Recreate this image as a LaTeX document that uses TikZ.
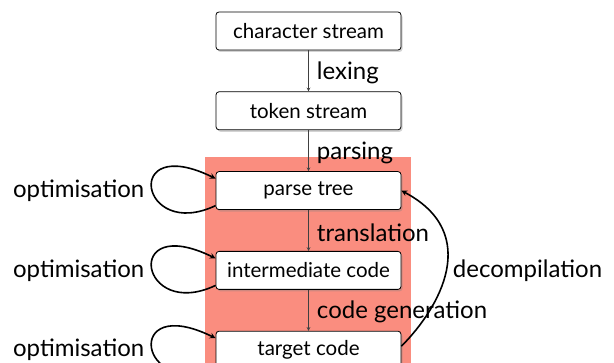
\documentclass[tikz,border=0pt]{standalone}
\usepackage{fontspec}
\setmainfont{Lato}
\usetikzlibrary{calc,positioning,shadows,arrows}
\definecolor{bandred}{RGB}{250,141,127}

\begin{document}
\begin{tikzpicture}[x=1pt,y=1pt,inner sep=0.4mm,
  stage/.style={draw,rounded corners=3pt,fill=white,line width=0.8pt,
    minimum width=185pt,minimum height=38pt,font=\fontsize{20.5}{20.5}\selectfont,
    drop shadow={shadow xshift=1.5pt,shadow yshift=-2pt,opacity=0.35}},
  lbl/.style={font=\fontsize{24}{24}\selectfont},
  pass/.style={->,>=stealth,draw=black!75,line width=0.7pt},
  loopy/.style={->,>=stealth,line width=1.6pt}]
\useasboundingbox (0,0) rectangle (614,-363);
\clip (0,0) rectangle (614,-363);
\fill[bandred] (205,-157) rectangle (411,-370);
% the stages
\node[stage] (cs) at (308.5,-31) {character stream};
\node[stage,below=41pt of cs] (ts) {token stream};
\node[stage,below=41pt of ts] (pt) {parse tree};
\node[stage,below=41pt of pt] (ic) {intermediate code};
\node[stage,below=41pt of ic] (tc) {target code};
% passes between stages
\draw[pass] (cs) -- (ts) node[lbl,midway,right=7pt,yshift=-2pt] (lex) {lexing};
\draw[pass] (ts) -- (pt) node[lbl,midway,right=7pt,yshift=-2pt] (par) {parsing};
\draw[pass] (pt) -- (ic) node[lbl,midway,right=7pt,yshift=-2pt] (tra) {translation};
\draw[pass] (ic) -- (tc) node[lbl,midway,right=7pt,yshift=-2pt] (gen) {code generation};
% optimisation loops
\foreach \s/\o in {pt/o1,ic/o2,tc/o3}{
  \draw[loopy] ([yshift=-15pt]\s.west) .. controls +(-76,-36) and +(-94,46) .. ([yshift=12pt]\s.west);
  \node[lbl,left=70pt of \s] (\o) {optimisation};
}
%\draw[loopy] (tc.east) to[out=45,in=-20] (pt.east);
\draw[loopy] ([yshift=4pt]tc.east) .. controls +(38,38) and +(81,-43) .. (pt.east)
  node[lbl,pos=0.5,right=5pt] (dec) {decompilation};
\end{tikzpicture}
\end{document}
